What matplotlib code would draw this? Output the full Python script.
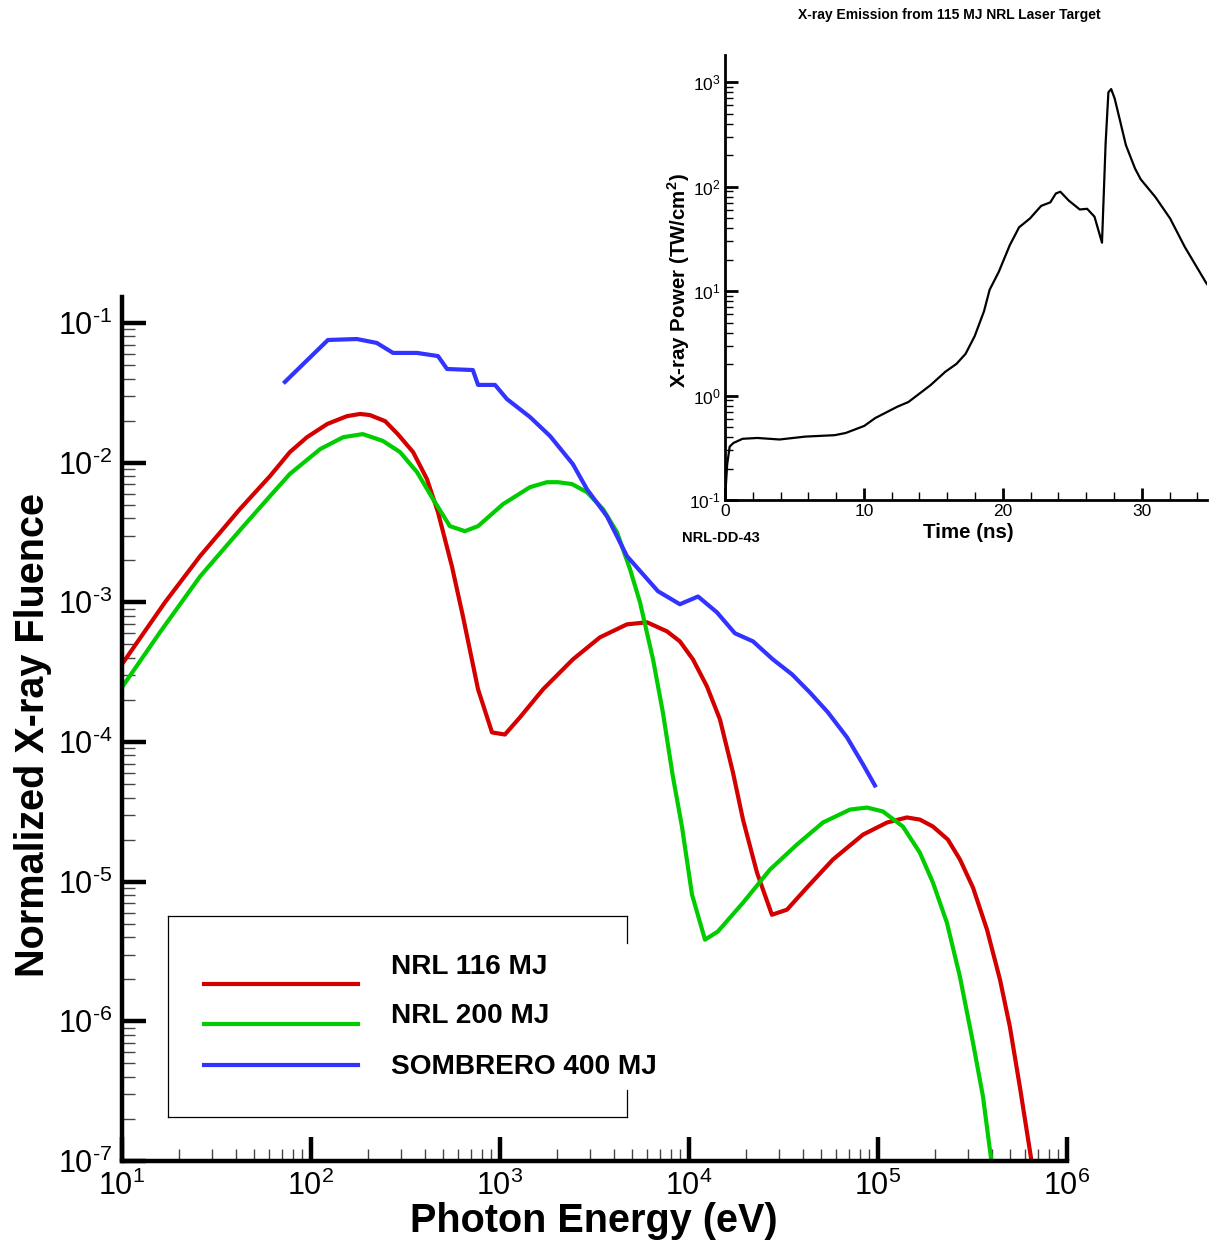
import matplotlib
matplotlib.use('Agg')
import numpy as np
import matplotlib.pyplot as plt
from matplotlib.ticker import LogLocator, FuncFormatter, MultipleLocator, NullFormatter
from matplotlib.lines import Line2D

plt.rcParams['font.family'] = ['Liberation Sans', 'DejaVu Sans']
plt.rcParams['mathtext.fontset'] = 'custom'
plt.rcParams['mathtext.rm'] = 'Liberation Sans'
plt.rcParams['mathtext.bf'] = 'Liberation Sans:bold'
plt.rcParams['axes.unicode_minus'] = False

# spectra: photon energy (eV) and normalized fluence
red_e = [10, 16.9, 25.9, 42.1, 60.7, 77.4, 95.3, 122, 155, 182, 205, 247, 288, 347, 411, 470, 557,
         637, 766, 908, 1062, 1276, 1690, 2432, 3381, 4699, 5998, 7656, 8954, 10500, 12450,
         14590, 17100, 19320, 22910, 27480, 33040, 42070, 57810, 83370, 111700, 142200,
         166700, 195400, 234400, 271600, 318400, 377600, 442600, 498900, 563600, 645700, 676000]
red_f = [3.6e-4, 1.0e-3, 2.14e-3, 4.65e-3, 8.0e-3, 1.19e-2, 1.52e-2, 1.89e-2, 2.15e-2, 2.23e-2,
         2.19e-2, 1.98e-2, 1.60e-2, 1.19e-2, 7.62e-3, 4.42e-3, 1.81e-3, 7.94e-4, 2.38e-4, 1.17e-4,
         1.13e-4, 1.50e-4, 2.38e-4, 3.90e-4, 5.61e-4, 6.95e-4, 7.19e-4, 6.19e-4, 5.25e-4, 3.90e-4,
         2.50e-4, 1.45e-4, 6.04e-5, 2.78e-5, 1.16e-5, 5.79e-6, 6.30e-6, 9.06e-6, 1.44e-5, 2.17e-5,
         2.65e-5, 2.88e-5, 2.78e-5, 2.48e-5, 2.00e-5, 1.44e-5, 9.06e-6, 4.53e-6, 1.98e-6, 9.14e-7,
         3.39e-7, 1.05e-7, 5.0e-8]

green_e = [10, 15.9, 25.9, 42.1, 60.7, 77.4, 112, 148, 188, 240, 296, 364, 443, 543, 653, 766, 1038,
           1442, 1774, 2028, 2404, 2884, 3508, 4159, 4875, 5508, 6457, 7278, 8222, 9183, 10380,
           12160, 14220, 19320, 26850, 37240, 51170, 71120, 87500, 106200, 135500, 166700,
           195400, 231700, 271600, 318400, 359700, 396300, 407000]
green_f = [2.46e-4, 6.1e-4, 1.53e-3, 3.28e-3, 5.75e-3, 8.3e-3, 1.25e-2, 1.52e-2, 1.60e-2, 1.43e-2,
           1.19e-2, 8.55e-3, 5.47e-3, 3.51e-3, 3.23e-3, 3.51e-3, 5.04e-3, 6.67e-3, 7.24e-3, 7.24e-3,
           7.02e-3, 6.15e-3, 4.65e-3, 3.18e-3, 1.73e-3, 1.0e-3, 3.90e-4, 1.63e-4, 5.66e-5, 2.48e-5,
           8.07e-6, 3.84e-6, 4.39e-6, 7.06e-6, 1.22e-5, 1.84e-5, 2.65e-5, 3.28e-5, 3.39e-5, 3.18e-5,
           2.48e-5, 1.61e-5, 9.84e-6, 5.08e-6, 2.08e-6, 7.02e-7, 2.88e-7, 1.05e-7, 5.0e-8]

blue_e = [72.8, 123, 175, 223, 272, 364, 470, 525, 719, 766, 942, 1089, 1442, 1841, 2432, 2884,
          3681, 4699, 6855, 8954, 11170, 14060, 17500, 21830, 27800, 35080, 43650, 54330, 68550,
          83370, 96380]
blue_f = [3.78e-2, 7.55e-2, 7.67e-2, 7.19e-2, 6.10e-2, 6.10e-2, 5.79e-2, 4.68e-2, 4.60e-2, 3.60e-2,
          3.60e-2, 2.85e-2, 2.12e-2, 1.55e-2, 9.75e-3, 6.46e-3, 4.13e-3, 2.14e-3, 1.20e-3, 9.68e-4,
          1.10e-3, 8.47e-4, 6.00e-4, 5.25e-4, 3.90e-4, 3.05e-4, 2.26e-4, 1.63e-4, 1.08e-4, 6.90e-5,
          4.88e-5]

labels = ['NRL 116 MJ', 'NRL 200 MJ', 'SOMBRERO 400 MJ']
colors = ['#d40000', '#00cc00', '#3333ff']

# inset: x-ray power vs time
time_ns = [0.0, 0.16, 0.34, 0.61, 1.27, 2.33, 3.93, 5.78, 7.90, 8.70, 10.03, 10.82, 12.41, 13.21,
           14.80, 15.86, 16.66, 17.32, 17.98, 18.65, 19.05, 19.71, 20.50, 21.17, 21.96, 22.76,
           23.42, 23.82, 24.14, 24.75, 25.54, 26.07, 26.60, 27.14, 27.40, 27.60, 27.80, 28.05,
           28.40, 28.86, 29.52, 29.92, 30.98, 32.04, 33.10, 34.62, 35.2]
power = [0.1, 0.22, 0.325, 0.352, 0.386, 0.393, 0.380, 0.405, 0.418, 0.439, 0.513, 0.610, 0.783,
         0.869, 1.26, 1.69, 2.01, 2.51, 3.72, 6.44, 10.3, 15.3, 27.5, 40.8, 49.7, 65.5, 70.8, 86.1,
         89.5, 73.6, 60.5, 61.4, 51.6, 29.1, 259, 800, 860, 700, 450, 250, 149, 118, 79.6, 49.7,
         26.5, 12.1, 9.5]


def pow10(v, pos):
    e = int(round(np.log10(v)))
    if e < 0:
        return r'$\mathdefault{10^{\text{-}%d}}$' % -e
    return r'$\mathdefault{10^{%d}}$' % e


fig = plt.figure(figsize=(12.17, 12.43), dpi=100)

# ---- main plot ----
ax = fig.add_axes([0.1002, 0.0660, 0.7765, 0.6951])
ax.set_xscale('log')
ax.set_yscale('log')
for e, f, c in zip([red_e, green_e, blue_e], [red_f, green_f, blue_f], colors):
    ax.plot(e, f, color=c, lw=3.0)
ax.set_xlim(10, 1e6)
ax.set_ylim(1e-7, 10 ** -0.814)

for s in ['top', 'right']:
    ax.spines[s].set_visible(False)
for s in ['left', 'bottom']:
    ax.spines[s].set_linewidth(3.2)

ax.xaxis.set_major_locator(LogLocator(base=10, numticks=20))
ax.yaxis.set_major_locator(LogLocator(base=10, numticks=20))
ax.xaxis.set_minor_locator(LogLocator(base=10, subs=range(2, 10), numticks=20))
ax.yaxis.set_minor_locator(LogLocator(base=10, subs=range(2, 10), numticks=20))
ax.xaxis.set_major_formatter(FuncFormatter(pow10))
ax.yaxis.set_major_formatter(FuncFormatter(pow10))
ax.xaxis.set_minor_formatter(NullFormatter())
ax.yaxis.set_minor_formatter(NullFormatter())
ax.tick_params(which='major', direction='in', length=17, width=3.2, labelsize=22, pad=7)
ax.tick_params(which='minor', direction='in', length=9, width=1.0, color='#444444')
ax.tick_params(axis='x', which='major', pad=7)

# legend drawn as in the original box
tr = ax.transAxes
box = [([0.0487, 0.5344], [0.2836, 0.2836]), ([0.0487, 0.0487], [0.2836, 0.0509]),
       ([0.0487, 0.5344], [0.0509, 0.0509]), ([0.5344, 0.5344], [0.2836, 0.2523]),
       ([0.5344, 0.5344], [0.0822, 0.0509])]
for xs, ys in box:
    ax.add_line(Line2D(xs, ys, transform=tr, color='black', lw=0.9, clip_on=False))
for lab, c, ly, ty in zip(labels, colors, [0.2049, 0.1586, 0.1111], [0.2245, 0.1678, 0.1088]):
    ax.add_line(Line2D([0.0868, 0.2497], [ly, ly], transform=tr, color=c, lw=3.0, clip_on=False))
    ax.text(0.2847, ty, lab, transform=tr, fontsize=20.2, fontweight='bold', va='center', ha='left')

fig.text(0.0271, 0.4087, 'Normalized X-ray Fluence', rotation=90, fontsize=28.5,
         fontweight='bold', ha='center', va='center')
fig.text(0.488, 0.0175, 'Photon Energy (eV)', fontsize=28.5, fontweight='bold',
         ha='center', va='center')

# ---- inset ----
ins = fig.add_axes([0.5957, 0.5977, 0.3961, 0.3580])
ins.set_yscale('log')
ins.plot(time_ns, power, color='black', lw=1.6)
ins.set_xlim(0, 34.7)
ins.set_ylim(0.1, 10 ** 3.26)
for s in ['top', 'right']:
    ins.spines[s].set_visible(False)
for s in ['left', 'bottom']:
    ins.spines[s].set_linewidth(2.0)
ins.xaxis.set_major_locator(MultipleLocator(10))
ins.xaxis.set_minor_locator(MultipleLocator(2))
ins.yaxis.set_major_locator(LogLocator(base=10, numticks=20))
ins.yaxis.set_minor_locator(LogLocator(base=10, subs=range(2, 10), numticks=20))
ins.yaxis.set_major_formatter(FuncFormatter(pow10))
ins.yaxis.set_minor_formatter(NullFormatter())
ins.tick_params(which='major', direction='in', length=9, width=2.0, labelsize=12.5, pad=3)
ins.tick_params(which='minor', direction='in', length=5.5, width=1.0)

fig.text(0.7798, 0.988, 'X-ray Emission from 115 MJ NRL Laser Target', fontsize=10,
         fontweight='bold', ha='center', va='center')
fig.text(0.558, 0.774, 'X-ray Power (TW/cm$^{\\mathbf{2}}$)', rotation=90, fontsize=14.8,
         fontweight='bold', ha='center', va='center')
fig.text(0.7954, 0.572, 'Time (ns)', fontsize=14.8, fontweight='bold', ha='center', va='center')
fig.text(0.5604, 0.5672, 'NRL-DD-43', fontsize=10.5, fontweight='bold', ha='left', va='center')

fig.savefig('out.png', dpi=100)
